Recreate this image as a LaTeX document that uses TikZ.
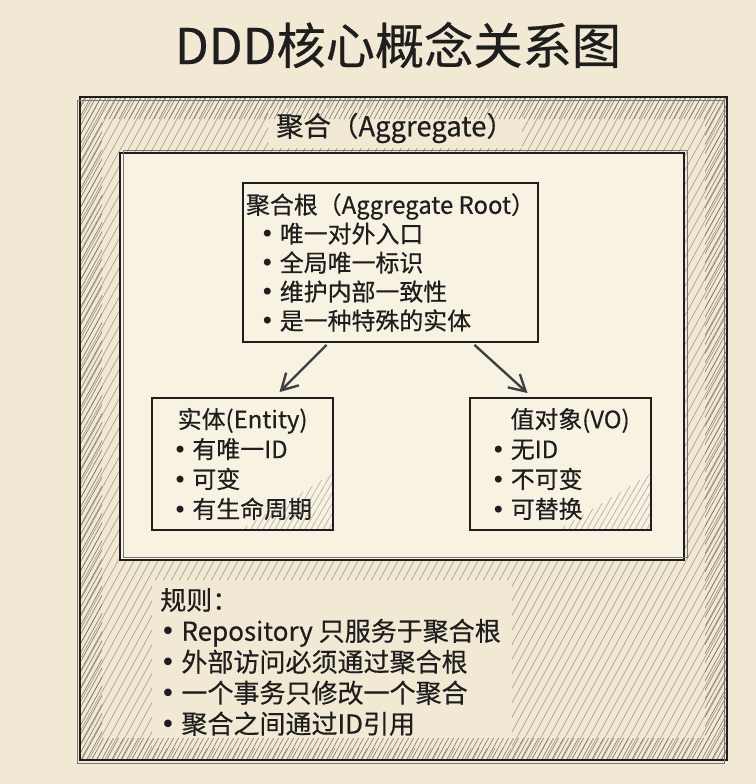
\documentclass[tikz,border=0pt]{standalone}
\usepackage{fontspec}
\setmainfont{Noto Sans CJK SC}[FakeBold=0.5]
\newfontfamily\bulletfont{DejaVu Sans}
\newcommand{\bul}{{\bulletfont •}}
\usetikzlibrary{arrows.meta, calc}

\definecolor{paper}{HTML}{F2E9D4}
\definecolor{paperlight}{HTML}{F8F2E3}
\definecolor{ink}{HTML}{1E1E1E}
\definecolor{hatch}{HTML}{6E675C}

\begin{document}
\begin{tikzpicture}[
  x=0.025cm, y=-0.025cm,
  frame/.style={draw=ink, line width=1.6pt},
  sketch/.style={draw=ink!60, line width=0.7pt},
  box/.style={rectangle, draw=ink, line width=1.3pt, fill=paperlight, align=left, text=ink, font=\fontsize{17}{21.3}\selectfont, inner sep=0pt},
  label/.style={align=left, text=ink, inner sep=0pt},
  hatchline/.style={draw=hatch, line width=0.45pt},
  arr/.style={-{Straight Barb[length=4mm, width=4.5mm]}, line width=1.7pt, draw=ink!85}
]
  \fill[paper] (0,0) rectangle (756,784);
  \useasboundingbox (0,0) rectangle (756,784);

  % title
  \node[font=\fontsize{35}{40}\selectfont, text=ink] (title) at (398,45) {DDD核心概念关系图};

  % hatching of the aggregate frame
  \begin{scope}[even odd rule]
    \clip (80,97) rectangle (727,760) (120,153) rectangle (684,560)
      (268,108) rectangle (522,148) (152,580) rectangle (512,748);
    \foreach \i in {-520,-512,...,760}
      \draw[hatchline, draw opacity=0.6] (\i,790) -- ++(440,-800);
  \end{scope}
  \begin{scope}[even odd rule]
    \clip (80,97) rectangle (727,760) (102,119) rectangle (705,738);
    \foreach \i in {-520,-515,...,760}
      \draw[hatchline, draw opacity=0.85] (\i,790) -- ++(440,-800);
  \end{scope}

  % frames
  \draw[frame] (80,97) rectangle (727,760);
  \draw[sketch] (77,100) rectangle (724,763);
  \draw[frame, fill=paperlight] (120,153) rectangle (684,560);
  \draw[sketch] (123,150) rectangle (687,557);

  \node[label, font=\fontsize{19.5}{23}\selectfont] (agg) at (395,128) {聚合（Aggregate）};

  % aggregate root and members
  \node[box, minimum width=7.375cm, minimum height=3.975cm, font=\fontsize{17}{20.6}\selectfont] (root) at (390.5,262.5)
    {聚合根（Aggregate Root）\\
     \hspace*{0.6em}\bul\ 唯一对外入口\\
     \hspace*{0.6em}\bul\ 全局唯一标识\\
     \hspace*{0.6em}\bul\ 维护内部一致性\\
     \hspace*{0.6em}\bul\ 是一种特殊的实体};
  \node[box, minimum width=4.525cm, minimum height=3.3cm] (ent) at (242.5,464)
    {\hspace*{0.2em}实体(Entity)\\
     \bul\ 有唯一ID\\
     \bul\ 可变\\
     \bul\ 有生命周期};
  \node[box, minimum width=4.525cm, minimum height=3.3cm] (vo) at (560.5,464)
    {\hspace*{0.8em}值对象(VO)\\
     \bul\ 无ID\\
     \bul\ 不可变\\
     \bul\ 可替换};

  % corner shading of the member boxes
  \foreach \b in {ent,vo} {
    \begin{scope}
      \clip ($(\b.south east)+(-2,-2)$) -- ++(0,-55) -- ++(-90,55) -- cycle;
      \foreach \i in {0,6,...,150}
        \draw[hatchline, draw opacity=0.5] ($(\b.south east)+(-\i,0)$) -- ++(35,-60);
    \end{scope}
  }

  \draw[arr] ($(root.south)+(-64,2)$) -- ($(ent.north)+(37,-5)$);
  \draw[arr] ($(root.south)+(84,2)$) -- ($(vo.north)+(-33,-4)$);

  % rules
  \node[label, anchor=west, font=\fontsize{18.5}{22}\selectfont] (rules) at (160,662)
    {规则：\\
     \bul\ Repository 只服务于聚合根\\
     \bul\ 外部访问必须通过聚合根\\
     \bul\ 一个事务只修改一个聚合\\
     \bul\ 聚合之间通过ID引用};
\end{tikzpicture}
\end{document}
